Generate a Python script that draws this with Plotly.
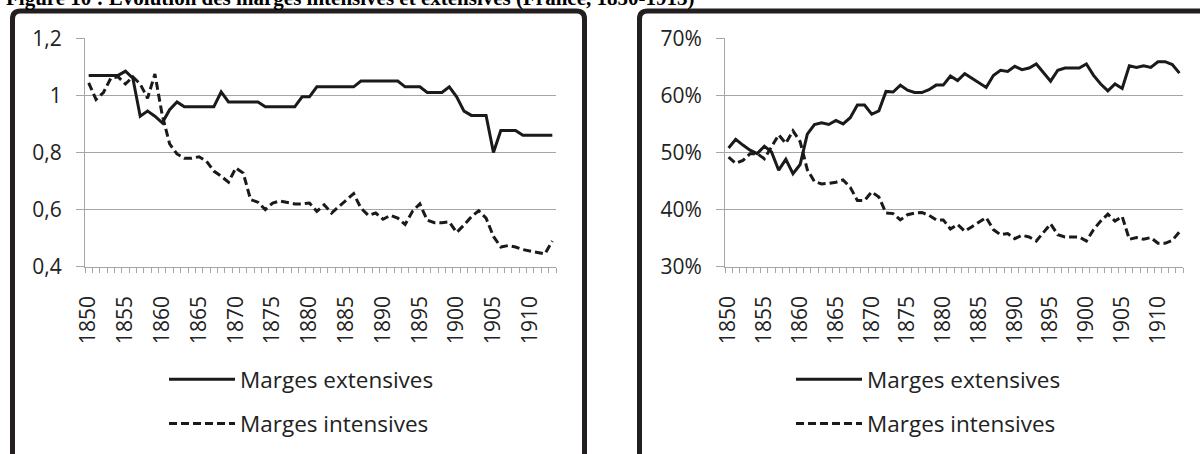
import plotly.graph_objects as go

# ---------------- data ----------------
years = list(range(1850, 1914))
tick_years = list(range(1850, 1911, 5))

left_extensive = [
    1.07, 1.07, 1.07, 1.07, 1.07, 1.085, 1.06, 0.927, 0.945, 0.927,
    0.904, 0.95, 0.977, 0.96, 0.96, 0.96, 0.96, 0.96, 1.012, 0.977,
    0.977, 0.977, 0.977, 0.977, 0.96, 0.96, 0.96, 0.96, 0.96, 0.995,
    0.995, 1.03, 1.03, 1.03, 1.03, 1.03, 1.03, 1.05, 1.05, 1.05,
    1.05, 1.05, 1.05, 1.03, 1.03, 1.03, 1.01, 1.01, 1.01, 1.03,
    0.995, 0.945, 0.93, 0.93, 0.93, 0.80, 0.877, 0.877, 0.877, 0.86,
    0.86, 0.86, 0.86, 0.86,
]
left_intensive = [
    1.044, 0.986, 1.01, 1.06, 1.065, 1.04, 1.065, 1.04, 0.99, 1.075,
    0.93, 0.83, 0.795, 0.78, 0.78, 0.785, 0.77, 0.735, 0.717, 0.696,
    0.746, 0.728, 0.635, 0.626, 0.60, 0.623, 0.63, 0.626, 0.62, 0.62,
    0.623, 0.594, 0.617, 0.588, 0.611, 0.634, 0.656, 0.605, 0.58, 0.588,
    0.566, 0.58, 0.57, 0.548, 0.594, 0.62, 0.563, 0.554, 0.554, 0.557,
    0.52, 0.546, 0.575, 0.596, 0.57, 0.506, 0.469, 0.474, 0.469, 0.46,
    0.455, 0.45, 0.445, 0.49,
]
right_extensive = [
    50.8, 52.3, 51.3, 50.4, 49.8, 51.1, 50.1, 46.9, 48.8, 46.3,
    47.9, 53.2, 54.9, 55.2, 54.9, 55.6, 55.0, 56.1, 58.3, 58.3,
    56.7, 57.3, 60.7, 60.6, 61.8, 60.9, 60.5, 60.5, 61.0, 61.8,
    61.8, 63.4, 62.6, 63.8, 63.0, 62.2, 61.4, 63.5, 64.4, 64.2,
    65.1, 64.5, 64.8, 65.5, 64.0, 62.5, 64.4, 64.8, 64.8, 64.8,
    65.5, 63.5, 62.0, 60.8, 62.0, 61.2, 65.2, 64.9, 65.2, 64.9,
    65.9, 65.9, 65.4, 63.9,
]
right_intensive = [
    49.2, 48.1, 48.6, 49.8, 49.8, 48.9, 51.0, 53.1, 51.6, 53.8,
    51.9, 47.0, 44.9, 44.5, 44.6, 44.8, 45.2, 43.9, 41.6, 41.6,
    43.1, 42.2, 39.4, 39.3, 38.2, 39.1, 39.4, 39.5, 39.0, 38.2,
    38.2, 36.6, 37.4, 36.2, 37.0, 37.8, 38.6, 36.5, 35.6, 35.8,
    34.9, 35.5, 35.2, 34.5, 36.0, 37.5, 35.6, 35.2, 35.2, 35.2,
    34.5, 36.5, 38.0, 39.2, 38.0, 38.8, 34.8, 35.1, 34.8, 35.1,
    34.1, 34.1, 34.6, 36.1,
]

series_names = ["Marges extensives", "Marges intensives"]
title_text = "Figure 10 : Évolution des marges intensives et extensives (France, 1850-1913)"

# ---------------- style ----------------
W, H = 1200, 454
def fx(p):
    return p / W
def fy(p):
    return 1 - p / H

LINE = "#1a1a1a"
GRID = "#a6a6a6"
TXT = "#222222"
FONT = "Open Sans"
FS = 21
DASH = "8px,4px"

fig = go.Figure()
fig.add_trace(go.Scatter(x=years, y=left_extensive, mode="lines", name=series_names[0],
                         line=dict(color=LINE, width=3), xaxis="x", yaxis="y",
                         legend="legend", legendgroup="a"))
fig.add_trace(go.Scatter(x=years, y=left_intensive, mode="lines", name=series_names[1],
                         line=dict(color=LINE, width=3, dash=DASH), xaxis="x", yaxis="y",
                         legend="legend", legendgroup="b"))
fig.add_trace(go.Scatter(x=years, y=right_extensive, mode="lines", name=series_names[0],
                         line=dict(color=LINE, width=3), xaxis="x2", yaxis="y2",
                         legend="legend2", legendgroup="c"))
fig.add_trace(go.Scatter(x=years, y=right_intensive, mode="lines", name=series_names[1],
                         line=dict(color=LINE, width=3, dash=DASH), xaxis="x2", yaxis="y2",
                         legend="legend2", legendgroup="d"))

boundaries = [years[0] - 0.5 + k for k in range(len(years) + 1)]

def xaxis_cfg(domain, anchor):
    return dict(
        domain=domain, anchor=anchor, range=[years[0] - 0.5, years[-1] + 0.5],
        tickmode="array", tickvals=tick_years, ticktext=[str(t) for t in tick_years],
        tickangle=-90, ticks="", showgrid=False, zeroline=False,
        showline=True, linecolor=GRID, linewidth=1,
        tickfont=dict(family=FONT, size=FS, color=TXT),
        ticklabelstandoff=20,
        minor=dict(tickmode="array", tickvals=boundaries, ticks="outside",
                   ticklen=5, tickcolor=GRID, tickwidth=1, showgrid=False),
        fixedrange=True,
    )

def yaxis_cfg(rng, dtick, anchor, suffix=""):
    return dict(
        domain=[fy(266.7), fy(38.3)], range=rng, dtick=dtick, tick0=rng[0],
        anchor=anchor, showgrid=True, gridcolor=GRID, gridwidth=1,
        ticks="outside", ticklen=8, tickcolor=GRID, tickwidth=1,
        showline=True, linecolor=GRID, linewidth=1, zeroline=False,
        tickfont=dict(family=FONT, size=FS, color=TXT), ticksuffix=suffix,
        ticklabelstandoff=10, fixedrange=True,
    )

def legend_cfg(x_left, y_top):
    return dict(
        x=fx(x_left), y=fy(y_top), xanchor="left", yanchor="top",
        orientation="v", font=dict(family=FONT, size=22.5, color=TXT),
        itemwidth=66, tracegroupgap=12, bgcolor="rgba(0,0,0,0)",
        borderwidth=0,
    )

# chart borders (rounded frames)
def frame(x0, x1, y0, y1, r=8):
    pts = (f"M {fx(x0)},{fy(y1)} L {fx(x0)},{fy(y0 + r)} "
           f"Q {fx(x0)},{fy(y0)} {fx(x0 + r)},{fy(y0)} "
           f"L {fx(x1 - r)},{fy(y0)} Q {fx(x1)},{fy(y0)} {fx(x1)},{fy(y0 + r)} "
           f"L {fx(x1)},{fy(y1)}")
    return dict(type="path", xref="paper", yref="paper", path=pts,
                line=dict(color="#231f20", width=5), layer="above")

fig.update_layout(
    width=W, height=H,
    margin=dict(l=0, r=0, t=0, b=0, autoexpand=False),
    paper_bgcolor="white", plot_bgcolor="white",
    separators=",.",
    showlegend=True,
    xaxis=xaxis_cfg([fx(85), fx(556)], "y"),
    yaxis=yaxis_cfg([0.4, 1.2], 0.2, "x"),
    xaxis2=xaxis_cfg([fx(725), fx(1183)], "y2"),
    yaxis2=yaxis_cfg([30, 70], 10, "x2", "%"),
    legend=legend_cfg(164, 358),
    legend2=legend_cfg(791, 358),
    shapes=[frame(12.5, 584.5, 11, 480), frame(639.5, 1215, 11, 480)],
    annotations=[dict(
        text="<b>" + title_text + "</b>", xref="paper", yref="paper",
        x=fx(4), y=fy(-1.5), xanchor="left", yanchor="middle", showarrow=False,
        font=dict(family="Liberation Serif", size=21, color="black"),
    )],
)

fig.write_html(
    "out.html",
    config={"displayModeBar": False, "staticPlot": True},
    post_script="document.body.style.margin='0';document.body.style.padding='0';",
)
